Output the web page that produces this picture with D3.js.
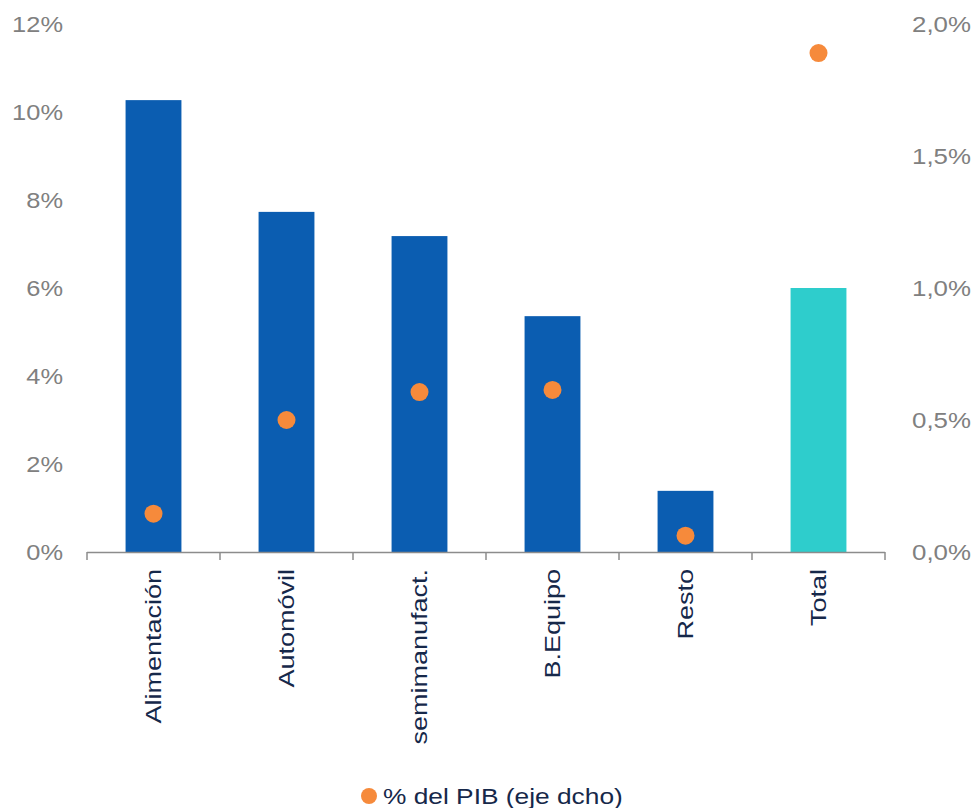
<!DOCTYPE html>
<html>
<head>
<meta charset="utf-8">
<script src="https://cdn.jsdelivr.net/npm/d3@7"></script>
<style>
	body { margin: 0; background: #fff; }
	svg text { font-family: 'Liberation Sans', Arial, sans-serif; }
</style>
</head>
<body>
<svg id="chart" width="975" height="808"></svg>
<script>
var categories = ['Alimentación', 'Automóvil', 'semimanufact.', 'B.Equipo', 'Resto', 'Total'];
var barValues = [10.27, 7.73, 7.18, 5.36, 1.39, 6.0];
var pibValues = [0.145, 0.5, 0.606, 0.614, 0.062, 1.89];
var leftTicks = [0, 2, 4, 6, 8, 10, 12];
var rightTicks = [0, 0.5, 1.0, 1.5, 2.0];
var legendLabel = '% del PIB (eje dcho)';

var BAR_COLOR = '#0b5db1',
	TOTAL_COLOR = '#2ecdcc',
	DOT_COLOR = '#f68a3b',
	TICK_TEXT = '#808080',
	LABEL_TEXT = '#16284a',
	AXIS_COLOR = '#8c8c8c';

var svg = d3.select('#chart');

var x = d3.scaleBand().domain(categories).range([ 87, 885 ]).paddingInner(0.58).paddingOuter(0.29);
var y = d3.scaleLinear().domain([ 0, 12 ]).range([ 552, 24 ]);
var y2 = d3.scaleLinear().domain([ 0, 2 ]).range([ 552, 24 ]);

// bars
svg
	.append('g')
	.selectAll('rect')
	.data(barValues)
	.enter()
	.append('rect')
	.attr('x', function(d, i) {
		return x(categories[i]);
	})
	.attr('width', x.bandwidth())
	.attr('y', function(d) {
		return y(d);
	})
	.attr('height', function(d) {
		return y(0) - y(d);
	})
	.style('fill', function(d, i) {
		return categories[i] == 'Total' ? TOTAL_COLOR : BAR_COLOR;
	});

// x axis line + ticks at band edges
var xAxis = svg.append('g');
xAxis
	.append('line')
	.attr('x1', x.range()[0])
	.attr('x2', x.range()[1])
	.attr('y1', y(0) + 0.5)
	.attr('y2', y(0) + 0.5)
	.attr('stroke', AXIS_COLOR)
	.attr('stroke-width', 1.5);

var edges = categories.map(function(c) {
	return x(c) + x.bandwidth() / 2 - x.step() / 2;
});
edges.push(x.range()[1]);
xAxis
	.selectAll('.tick')
	.data(edges)
	.enter()
	.append('line')
	.attr('x1', function(d) {
		return d;
	})
	.attr('x2', function(d) {
		return d;
	})
	.attr('y1', y(0))
	.attr('y2', y(0) + 8)
	.attr('stroke', AXIS_COLOR)
	.attr('stroke-width', 1.5);

// category labels
svg
	.append('g')
	.selectAll('text')
	.data(categories)
	.enter()
	.append('text')
	.attr('transform', function(d) {
		return 'translate(' + (x(d) + x.bandwidth() / 2) + ',569) rotate(-90) scale(1.2,1)';
	})
	.attr('text-anchor', 'end')
	.attr('dy', '0.35em')
	.style('font-size', '22.5px')
	.style('fill', LABEL_TEXT)
	.text(function(d) {
		return d;
	});

// dots on right axis
svg
	.append('g')
	.selectAll('circle')
	.data(pibValues)
	.enter()
	.append('circle')
	.attr('cx', function(d, i) {
		return x(categories[i]) + x.bandwidth() / 2;
	})
	.attr('cy', function(d) {
		return y2(d);
	})
	.attr('r', 9)
	.style('fill', DOT_COLOR);

// left tick labels
svg
	.append('g')
	.selectAll('text')
	.data(leftTicks)
	.enter()
	.append('text')
	.attr('transform', function(d) {
		return 'translate(63,' + y(d) + ') scale(1.13,1)';
	})
	.attr('text-anchor', 'end')
	.attr('dy', '0.35em')
	.style('font-size', '22.5px')
	.style('fill', TICK_TEXT)
	.text(function(d) {
		return d + '%';
	});

// right tick labels
var fmt = d3.format('.1f');
svg
	.append('g')
	.selectAll('text')
	.data(rightTicks)
	.enter()
	.append('text')
	.attr('transform', function(d) {
		return 'translate(912,' + y2(d) + ') scale(1.15,1)';
	})
	.attr('text-anchor', 'start')
	.attr('dy', '0.35em')
	.style('font-size', '22.5px')
	.style('fill', TICK_TEXT)
	.text(function(d) {
		return fmt(d).replace('.', ',') + '%';
	});

// legend
var legend = svg.append('g').attr('transform', 'translate(369,796)');
legend.append('circle').attr('r', 8).style('fill', DOT_COLOR);
legend
	.append('text')
	.attr('transform', 'translate(14,0) scale(1.17,1)')
	.attr('dy', '0.35em')
	.style('font-size', '22.5px')
	.style('fill', LABEL_TEXT)
	.text(legendLabel);
</script>
</body>
</html>
